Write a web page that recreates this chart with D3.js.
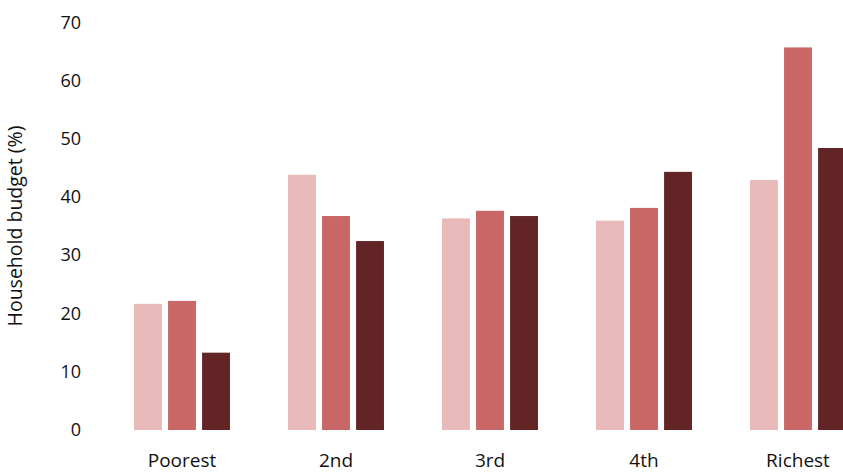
<!DOCTYPE html>
<html>
<head>
<meta charset="utf-8">
<script src="https://cdn.jsdelivr.net/npm/d3@7"></script>
<style>
  html, body { margin: 0; padding: 0; background: #fff; }
  svg { display: block; }
  text { font-family: "Open Sans", "Noto Sans", sans-serif; fill: #111; }
</style>
</head>
<body>
<svg id="chart" width="843" height="473"></svg>
<script>
const categories = ["Poorest", "2nd", "3rd", "4th", "Richest"];
const seriesNames = ["Series A", "Series B", "Series C"];
const seriesA = [21.7, 43.9, 36.4, 36.0, 43.0];
const seriesB = [22.2, 36.8, 37.7, 38.2, 65.8];
const seriesC = [13.3, 32.5, 36.8, 44.4, 48.5];
const yTicks = [0, 10, 20, 30, 40, 50, 60, 70];
const colors = ["#e8b9b9", "#c96666", "#632426"];
const yTitle = "Household budget (%)";

const svg = d3.select("#chart");
const allSeries = [seriesA, seriesB, seriesC];

const x0 = d3.scaleBand().domain(categories).range([105, 875]).paddingInner(0.377).paddingOuter(0.1885);
const x1 = d3.scaleBand().domain(seriesNames).range([0, x0.bandwidth()]).paddingInner(0.18);
const y = d3.scaleLinear().domain([0, 70]).range([430, 23]);

// y axis labels
const yAxis = d3.axisLeft(y).tickValues(yTicks).tickSize(0).tickPadding(0);
const gy = svg.append("g").attr("transform", "translate(81,-1)").call(yAxis);
gy.select(".domain").remove();
gy.selectAll("text").style("font-size", "18px").style("font-family", "'Open Sans', sans-serif").attr("fill", "#111").attr("dy", "0.35em");

// y title
svg.append("text")
  .attr("transform", "translate(22," + 226 + ") rotate(-90)")
  .attr("text-anchor", "middle")
  .style("font-size", "19.5px")
  .text(yTitle);

// bars
const groups = svg.append("g").selectAll("g")
  .data(categories)
  .join("g")
  .attr("transform", d => "translate(" + x0(d) + ",0)");

groups.selectAll("rect")
  .data((d, i) => seriesNames.map((s, j) => ({ s, v: allSeries[j][i], j })))
  .join("rect")
  .attr("x", d => x1(d.s))
  .attr("width", x1.bandwidth())
  .attr("y", d => y(d.v))
  .attr("height", d => y(0) - y(d.v))
  .attr("fill", d => colors[d.j]);

// x axis labels
const xAxis = d3.axisBottom(x0).tickSize(0).tickPadding(0);
const gx = svg.append("g").attr("transform", "translate(0,467)").call(xAxis);
gx.select(".domain").remove();
gx.selectAll("text").style("font-size", "19px").style("font-family", "'Open Sans', sans-serif").attr("fill", "#111").attr("y", 0).attr("dy", 0);
</script>
</body>
</html>
